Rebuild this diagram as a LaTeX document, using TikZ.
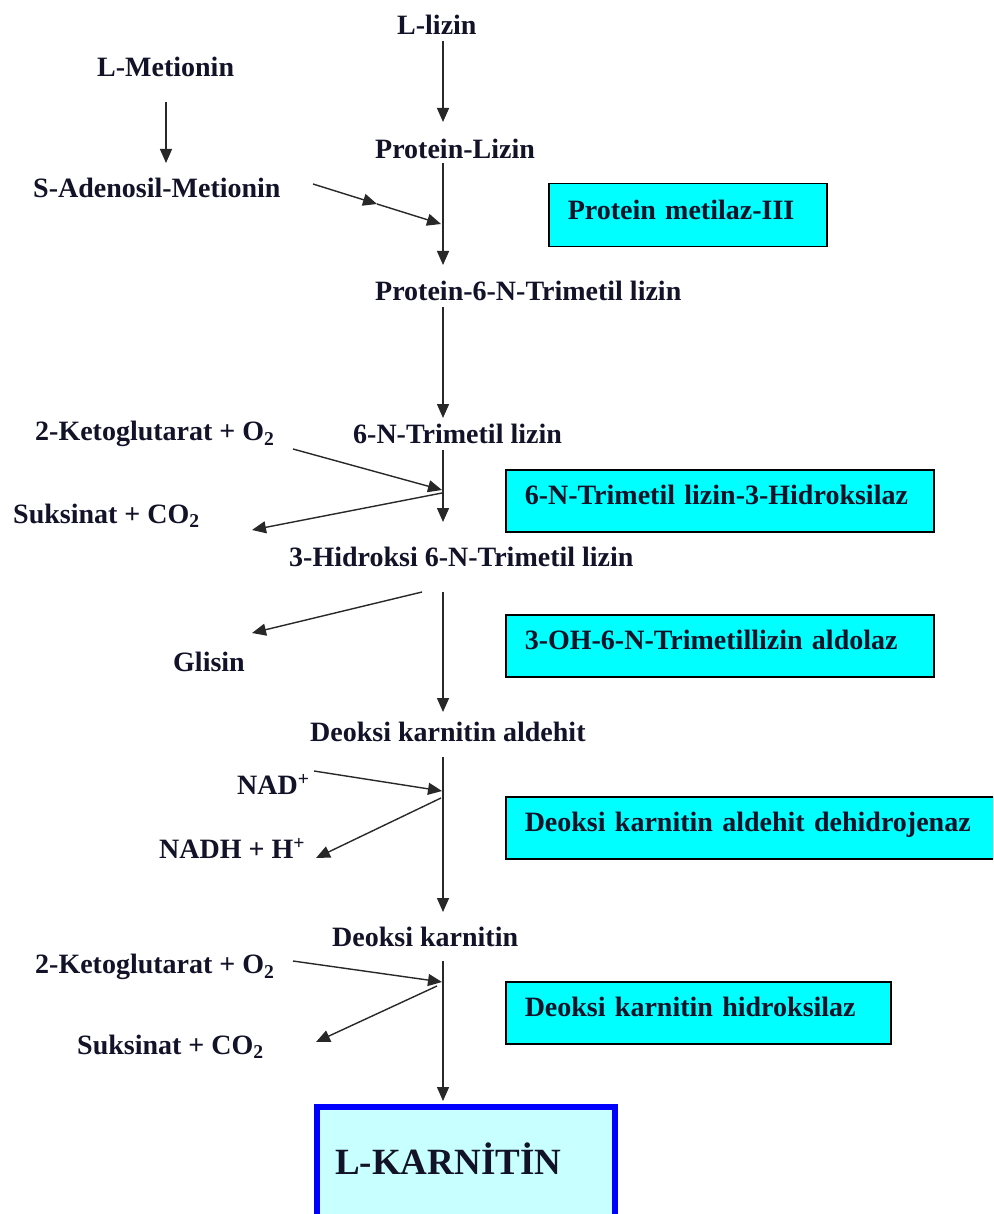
\documentclass[tikz,border=0pt]{standalone}
\usepackage{fontspec}
\setmainfont{Liberation Serif}
\usetikzlibrary{arrows.meta}
\definecolor{txt}{RGB}{18,18,40}
\definecolor{ln}{RGB}{40,40,40}
\definecolor{enzfill}{RGB}{0,255,255}
\definecolor{karfill}{RGB}{200,255,255}
\begin{document}
\begin{tikzpicture}[x=1pt,y=-1pt,
  lbl/.style={font=\fontsize{28}{32}\selectfont\bfseries, text=txt, inner sep=0pt, anchor=west},
  enzbox/.style={draw=black, line width=1.5pt, fill=enzfill, anchor=north west,
     font=\fontsize{28}{32}\selectfont\bfseries, text=txt, inner xsep=19pt, inner ysep=0pt, align=left,
     text height=19pt, text depth=11pt},
  arr/.style={draw=ln, line width=1.4pt, -{Triangle[length=14pt,width=12pt]}}
]
\clip (0,0) rectangle (993,1214);
\fill[white] (0,0) rectangle (993,1214);

% labels
\node[lbl] (lizin) at (397,25) {L-lizin};
\node[lbl] (met) at (97,67) {L-Metionin};
\node[lbl] (plizin) at (375,149) {Protein-Lizin};
\node[lbl] (sam) at (33,188) {S-Adenosil-Metionin};
\node[lbl] (p6n) at (375,291) {Protein-6-N-Trimetil lizin};
\node[lbl] (tml) at (353,434) {6-N-Trimetil lizin};
\node[lbl] (keto1) at (35,434) {2-Ketoglutarat + O\textsubscript{2}};
\node[lbl] (suk1) at (13,516) {Suksinat + CO\textsubscript{2}};
\node[lbl] (html) at (289,557) {3-Hidroksi 6-N-Trimetil lizin};
\node[lbl] (gli) at (173,662) {Glisin};
\node[lbl] (dka) at (310,732) {Deoksi karnitin aldehit};
\node[lbl] (nad) at (237,784) {NAD\textsuperscript{+}};
\node[lbl] (nadh) at (159,848) {NADH + H\textsuperscript{+}};
\node[lbl] (dk) at (332,937) {Deoksi karnitin};
\node[lbl] (keto2) at (35,967) {2-Ketoglutarat + O\textsubscript{2}};
\node[lbl] (suk2) at (77,1047) {Suksinat + CO\textsubscript{2}};

% enzyme boxes
\node[enzbox, minimum width=278pt, minimum height=63pt, text width=240pt] (e1) at (548,183) {Protein metilaz-III};
\node[enzbox, minimum width=428pt, minimum height=62pt, text width=390pt] (e2) at (505,469) {6-N-Trimetil lizin-3-Hidroksilaz};
\node[enzbox, minimum width=428pt, minimum height=62pt, text width=390pt] (e3) at (505,614) {3-OH-6-N-Trimetillizin aldolaz};
\node[enzbox, minimum width=490pt, minimum height=62pt, text width=452pt] (e4) at (505,796) {Deoksi karnitin aldehit dehidrojenaz};
\node[enzbox, minimum width=385pt, minimum height=62pt, text width=347pt] (e5) at (505,981) {Deoksi karnitin hidroksilaz};

% final product
\node[draw=blue, line width=6pt, fill=karfill, anchor=north west, minimum width=298pt, minimum height=130pt, inner sep=0pt] (kar) at (314,1104) {};
\node[font=\fontsize{37}{42}\selectfont\bfseries, text=txt, inner sep=0pt, anchor=west] (kartxt) at (335,1159) {L-KARN\.ITİN};

% main line coordinates
\coordinate (m1a) at (443,41);  \coordinate (m1b) at (443,122);
\coordinate (m2a) at (443,163); \coordinate (m2b) at (443,265);
\coordinate (m3a) at (443,307); \coordinate (m3b) at (443,418);
\coordinate (m4a) at (443,450); \coordinate (m4b) at (443,522);
\coordinate (m5a) at (443,592); \coordinate (m5b) at (443,712);
\coordinate (m6a) at (443,757); \coordinate (m6b) at (443,912);
\coordinate (m7a) at (443,961); \coordinate (m7b) at (443,1101);

\draw[arr] (m1a) -- (m1b);
\draw[arr] (m2a) -- (m2b);
\draw[arr] (m3a) -- (m3b);
\draw[arr] (m4a) -- (m4b);
\draw[arr] (m5a) -- (m5b);
\draw[arr] (m6a) -- (m6b);
\draw[arr] (m7a) -- (m7b);

% L-Metionin -> SAM
\coordinate (ma) at (166,102); \coordinate (mb) at (166,163);
\draw[arr] (ma) -- (mb);

% side arrows
\coordinate (s1) at (313,184); \coordinate (s2) at (377,204); \coordinate (s3) at (441,224);
\draw[arr] (s1) -- (s2);
\draw[arr] (s2) -- (s3);

\coordinate (k1a) at (293,449); \coordinate (k1b) at (442,490);
\draw[arr] (k1a) -- (k1b);
\coordinate (u1a) at (442,493); \coordinate (u1b) at (252,530);
\draw[arr] (u1a) -- (u1b);

\coordinate (ga) at (422,592); \coordinate (gb) at (252,633);
\draw[arr] (ga) -- (gb);

\coordinate (na) at (314,771); \coordinate (nb) at (442,791);
\draw[arr] (na) -- (nb);
\coordinate (ha) at (441,798); \coordinate (hb) at (316,858);
\draw[arr] (ha) -- (hb);

\coordinate (k2a) at (293,961); \coordinate (k2b) at (442,982);
\draw[arr] (k2a) -- (k2b);
\coordinate (u2a) at (437,986); \coordinate (u2b) at (316,1042);
\draw[arr] (u2a) -- (u2b);
\end{tikzpicture}
\end{document}
